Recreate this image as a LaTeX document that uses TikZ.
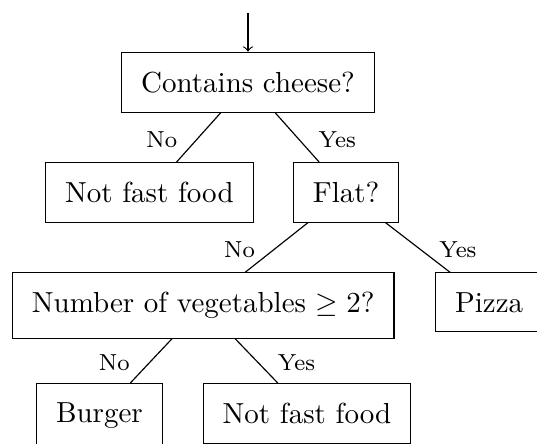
\documentclass[tikz,border=0pt]{standalone}
\begin{document}
\begin{tikzpicture}[x=0.3448pt, y=-0.3448pt,
  box/.style={draw, rectangle, inner sep=6.7pt, anchor=north, font=\normalsize},
  lblL/.style={midway, left=7.2pt, inner sep=0pt, font=\footnotesize, yshift=-0.7pt},
  lblR/.style={midway, right=7.2pt, inner sep=0pt, font=\footnotesize, yshift=-0.7pt},
  conn/.style={draw, line width=0.4pt}]
\useasboundingbox (0,0) rectangle (537,443);
\clip (0,0) rectangle (537,443);
\node[box] (root) at (248,51.7) {Contains cheese?};
\node[box] (nff1) at (149.4,162) {Not fast food};
\node[box] (flat) at (346.2,162) {Flat?};
\node[box] (num) at (203.2,272.3) {Number of vegetables $\geq 2$?};
\node[box] (pizza) at (489.2,272.3) {Pizza};
\node[box] (burger) at (99.4,383) {Burger};
\node[box] (nff2) at (307,383) {Not fast food};
\coordinate (start) at (248,13);
\draw[->] (start) -- (root);
\draw[conn] (root) -- node[lblL] {No} (nff1);
\draw[conn] (root) -- node[lblR] {Yes} (flat);
\draw[conn] (flat) -- node[lblL] {No} (num);
\draw[conn] (flat) -- node[lblR] {Yes} (pizza);
\draw[conn] (num) -- node[lblL] {No} (burger);
\draw[conn] (num) -- node[lblR] {Yes} (nff2);
\end{tikzpicture}
\end{document}
